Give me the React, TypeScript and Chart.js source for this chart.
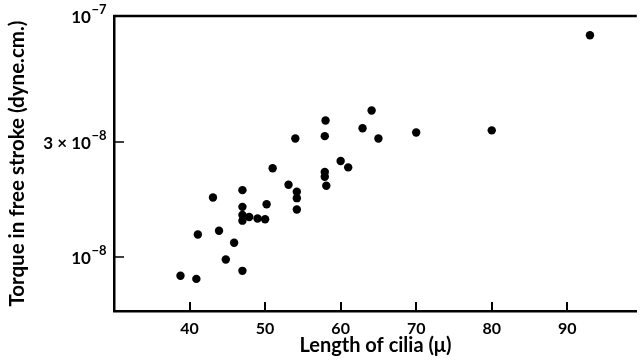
import React, { useEffect, useRef } from 'react';
import { Chart, registerables } from 'chart.js';

Chart.register(...registerables);

// Length of cilia (μ)
const lengths = [93, 80, 70, 64.1, 58.0, 62.9, 57.9, 54.0, 65.0, 60.0, 61.0, 51.0, 57.9, 57.9, 58.1, 53.1, 54.2, 54.2, 54.2, 47.0, 43.1, 50.2, 47.0, 47.0, 47.0, 47.9, 49.0, 50.0, 41.1, 43.9, 45.9, 44.8, 47.0, 38.8, 40.9];
// Torque in free stroke (dyne.cm.)
const torques = [8.32e-8, 3.36e-8, 3.29e-8, 4.06e-8, 3.69e-8, 3.43e-8, 3.18e-8, 3.11e-8, 3.11e-8, 2.51e-8, 2.36e-8, 2.34e-8, 2.26e-8, 2.16e-8, 1.98e-8, 2.0e-8, 1.87e-8, 1.76e-8, 1.58e-8, 1.9e-8, 1.77e-8, 1.66e-8, 1.62e-8, 1.5e-8, 1.42e-8, 1.47e-8, 1.45e-8, 1.44e-8, 1.245e-8, 1.29e-8, 1.15e-8, 0.98e-8, 0.88e-8, 0.84e-8, 0.815e-8];

const xTickValues = [40, 50, 60, 70, 80, 90];
const yTickValues = [1e-8, 3e-8, 1e-7];
const yTickMantissas = ['', '3 × ', ''];
const yTickExponents = ['−8', '−8', '−7'];

const FONT = 'Lato, "Open Sans", sans-serif';

const frameTicks = {
  id: 'frameTicks',
  afterDraw(chart: any) {
    const { ctx, chartArea, scales } = chart;
    ctx.save();
    ctx.strokeStyle = '#000';
    ctx.lineWidth = 2.5;
    ctx.beginPath();
    ctx.moveTo(chartArea.left - 1, chartArea.top);
    ctx.lineTo(chartArea.right, chartArea.top);
    ctx.stroke();
    ctx.lineWidth = 2;
    ctx.beginPath();
    scales.x.ticks.forEach((t: any) => {
      const px = Math.round(scales.x.getPixelForValue(t.value));
      ctx.moveTo(px, chartArea.bottom);
      ctx.lineTo(px, chartArea.bottom - 9);
    });
    ctx.stroke();
    ctx.lineWidth = 1.5;
    ctx.beginPath();
    scales.y.ticks.forEach((t: any) => {
      const py = Math.round(scales.y.getPixelForValue(t.value));
      ctx.moveTo(chartArea.left, py);
      ctx.lineTo(chartArea.left + 10, py);
    });
    ctx.stroke();
    // y tick labels with superscript exponents
    ctx.fillStyle = '#000';
    ctx.textBaseline = 'alphabetic';
    scales.y.ticks.forEach((t: any) => {
      const i = yTickValues.findIndex((v) => Math.abs(v - t.value) / v < 1e-6);
      if (i < 0) return;
      const py = scales.y.getPixelForValue(t.value);
      const rightX = chartArea.left - 8;
      ctx.font = `bold 13px ${FONT}`;
      const expW = ctx.measureText(yTickExponents[i]).width;
      ctx.font = `bold 17px ${FONT}`;
      const base = yTickMantissas[i] + '10';
      const baseW = ctx.measureText(base).width;
      const x0 = rightX - expW - baseW;
      const baseY = py + 7;
      ctx.textAlign = 'left';
      ctx.fillText(base, x0, baseY);
      ctx.font = `bold 13px ${FONT}`;
      ctx.fillText(yTickExponents[i], x0 + baseW + 0.5, baseY - 9);
    });
    ctx.restore();
  },
};

export default function App() {
  const ref = useRef<HTMLCanvasElement | null>(null);
  useEffect(() => {
    if (!ref.current) return;
    const chart = new Chart(ref.current, {
      type: 'scatter',
      data: {
        datasets: [
          {
            data: lengths.map((x, i) => ({ x, y: torques[i] })),
            backgroundColor: '#000',
            borderColor: '#000',
            pointRadius: 4.2,
            pointBorderWidth: 0,
          },
        ],
      },
      options: {
        animation: false,
        responsive: false,
        layout: { padding: { left: 0, top: 16, right: 1, bottom: 0 } },
        plugins: { legend: { display: false }, tooltip: { enabled: false } },
        scales: {
          x: {
            type: 'linear',
            min: 30,
            max: 99.2,
            afterBuildTicks: (s: any) => {
              s.ticks = xTickValues.map((v) => ({ value: v }));
            },
            afterFit: (s: any) => {
              s.height = 52;
            },
            grid: { display: false, drawTicks: false },
            border: { display: true, color: '#000', width: 2.5 },
            ticks: {
              color: '#000',
              padding: 8,
              font: { family: FONT, size: 16, weight: 'bold' },
              maxRotation: 0,
              callback: (v: any) => String(v),
            },
            title: {
              display: true,
              text: 'Length of cilia (μ)',
              color: '#000',
              font: { family: FONT, size: 20, weight: 'bold' },
              padding: { top: 0, bottom: 5 },
            },
          },
          y: {
            type: 'logarithmic',
            min: 6e-9,
            max: 1e-7,
            afterBuildTicks: (s: any) => {
              s.ticks = yTickValues.map((v) => ({ value: v }));
            },
            afterFit: (s: any) => {
              s.width = 114;
            },
            grid: { display: false, drawTicks: false },
            border: { display: true, color: '#000', width: 2.5 },
            ticks: { display: false },
            title: {
              display: true,
              text: 'Torque in free stroke (dyne.cm.)',
              color: '#000',
              font: { family: FONT, size: 20.5, weight: 'bold' },
              padding: { top: 5, bottom: 0 },
            },
          },
        },
      },
      plugins: [frameTicks],
    });
    return () => chart.destroy();
  }, []);
  return (
    <div style={{ position: 'absolute', left: 0, top: 0, width: 641, height: 363, background: '#fff' }}>
      <canvas ref={ref} width={641} height={363} />
    </div>
  );
}
